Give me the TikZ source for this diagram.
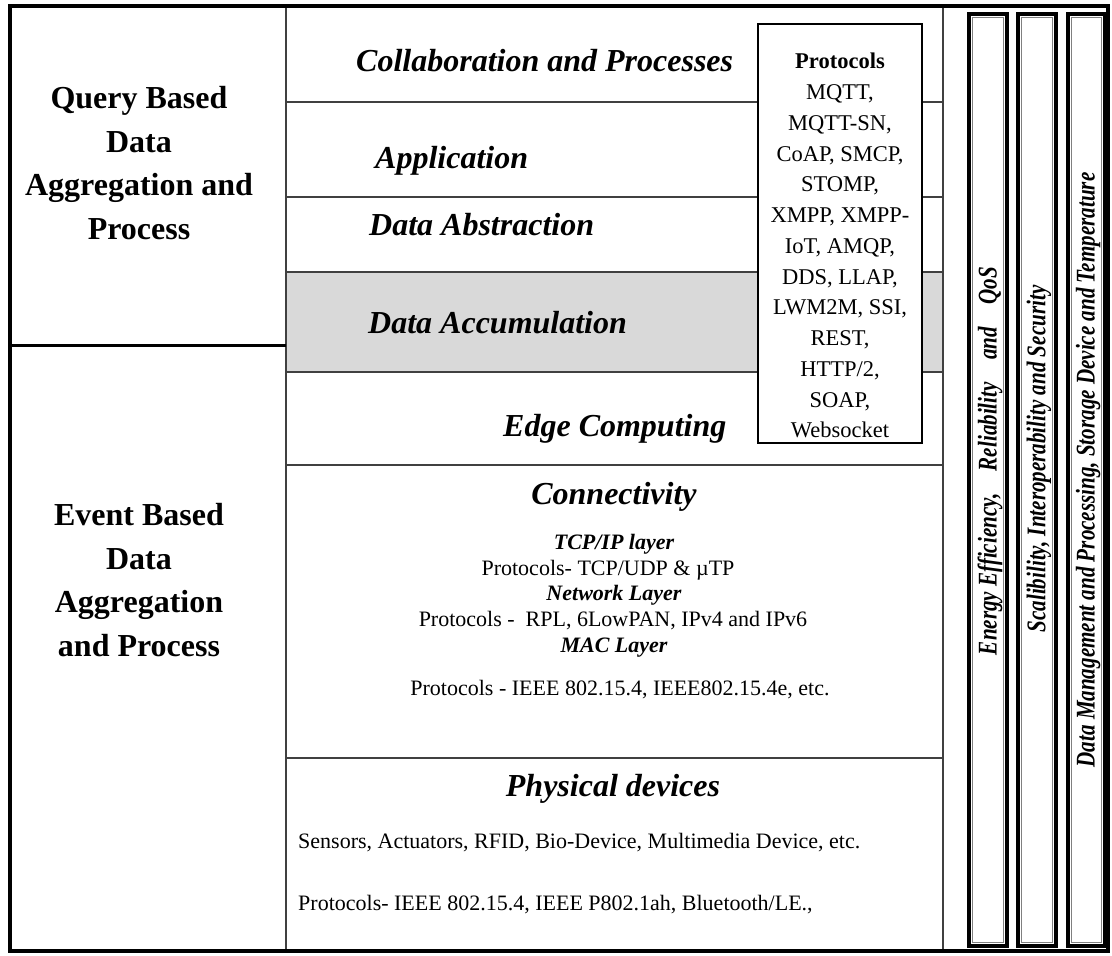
\documentclass[tikz,border=0pt]{standalone}
\usepackage{fontspec}
\setmainfont{Liberation Serif}
\newfontfamily\barfont[FakeStretch=0.78]{Liberation Serif}
\definecolor{linegray}{HTML}{404040}
\definecolor{bandgray}{HTML}{D9D9D9}
\tikzset{
  thinline/.style={draw=linegray, line width=1.2pt},
  heading/.style={inner sep=0pt, font=\fontsize{32}{38}\selectfont\bfseries\itshape},
  sublayer/.style={inner sep=0pt, font=\fontsize{22}{26}\selectfont\bfseries\itshape},
  plain/.style={inner sep=0pt, font=\fontsize{22}{26}\selectfont},
  sidetext/.style={inner sep=0pt, align=center, font=\fontsize{32}{43.7}\selectfont\bfseries},
  bartext/.style={inner sep=0pt, rotate=90, font=\fontsize{27}{32}\barfont\bfseries\itshape},
  barbox/.style={draw=black, line width=4pt},
  barinner/.style={draw=gray, line width=0.8pt},
  protobox/.style={draw=black, fill=white, line width=1.5pt, inner sep=0pt}
}
\begin{document}
\begin{tikzpicture}[x=1pt,y=-1pt]
\useasboundingbox (0,0) rectangle (1112,956);
% grey band
\fill[bandgray] (286,272) rectangle (943,372);
% horizontal separators in middle column
\foreach \yy in {102,197,272,372,465,758}
  \draw[thinline] (286,\yy) -- (943,\yy);
% vertical separators
\draw[thinline] (286,6) -- (286,951);
\draw[thinline] (943,6) -- (943,951);
% thick split in left column
\draw[line width=3pt] (10,345) -- (286,345);
% outer frame
\draw[line width=4pt] (10,6) rectangle (1108,951);
% side bars
\draw[barbox] (969,14) rectangle (1007,946);
\draw[barinner] (972.5,17.5) rectangle (1003.5,942.5);
\draw[barbox] (1018,14) rectangle (1056,946);
\draw[barinner] (1021.5,17.5) rectangle (1052.5,942.5);
\draw[barbox] (1068,14) rectangle (1105,946);
\draw[barinner] (1071.5,17.5) rectangle (1101.5,942.5);
% protocols box
\node[protobox, minimum width=164pt, minimum height=419pt] (pbox) at (840,233.5) {};
\node[inner sep=0pt, anchor=north, align=center, font=\fontsize{22.5}{30.75}\selectfont] (ptext) at (840,53)
 {\textbf{Protocols}\\MQTT,\\MQTT-SN,\\CoAP, SMCP,\\STOMP,\\XMPP, XMPP-\\IoT, AMQP,\\DDS, LLAP,\\LWM2M, SSI,\\REST,\\HTTP/2,\\SOAP,\\Websocket};
% left column
\node[sidetext, anchor=north] (query) at (139,86) {Query Based\\Data\\Aggregation and\\Process};
\node[sidetext, anchor=north] (event) at (139,503) {Event Based\\Data\\Aggregation\\and Process};
% middle headings
\node[heading, anchor=base west] (collab) at (356,71) {Collaboration and Processes};
\node[heading, anchor=base west] (app) at (375,168) {Application};
\node[heading, anchor=base west] (abstr) at (369,235) {Data Abstraction};
\node[heading, anchor=base west] (accum) at (368,333) {Data Accumulation};
\node[heading, anchor=base west] (edge) at (503,436) {Edge Computing};
\node[heading, anchor=base] (conn) at (614,504) {Connectivity};
\node[sublayer, anchor=base] (tcp) at (614,549) {TCP/IP layer};
\node[plain, anchor=base] (tcpp) at (608,575) {Protocols- TCP/UDP \& µTP};
\node[sublayer, anchor=base] (net) at (614,600) {Network Layer};
\node[plain, anchor=base] (netp) at (613,626) {Protocols -\ \ RPL, 6LowPAN, IPv4 and IPv6};
\node[sublayer, anchor=base] (mac) at (614,652) {MAC Layer};
\node[plain, anchor=base] (macp) at (620,695) {Protocols - IEEE 802.15.4, IEEE802.15.4e, etc.};
\node[heading, anchor=base] (phys) at (613,796) {Physical devices};
\node[plain, anchor=base west] (sens) at (298,848) {Sensors, Actuators, RFID, Bio-Device, Multimedia Device, etc.};
\node[plain, anchor=base west] (physp) at (298,910) {Protocols- IEEE 802.15.4, IEEE P802.1ah, Bluetooth/LE.,};
% bar texts
\node[bartext] (bar1) at (990,461) {\makebox[388pt]{Energy Efficiency,\hfill Reliability\hfill and\hfill QoS}};
\node[bartext] (bar2) at (1039,459) {Scalibility, Interoperability and Security};
\node[bartext] (bar3) at (1088,470) {Data Management and Processing, Storage Device and Temperature};
\end{tikzpicture}
\end{document}
